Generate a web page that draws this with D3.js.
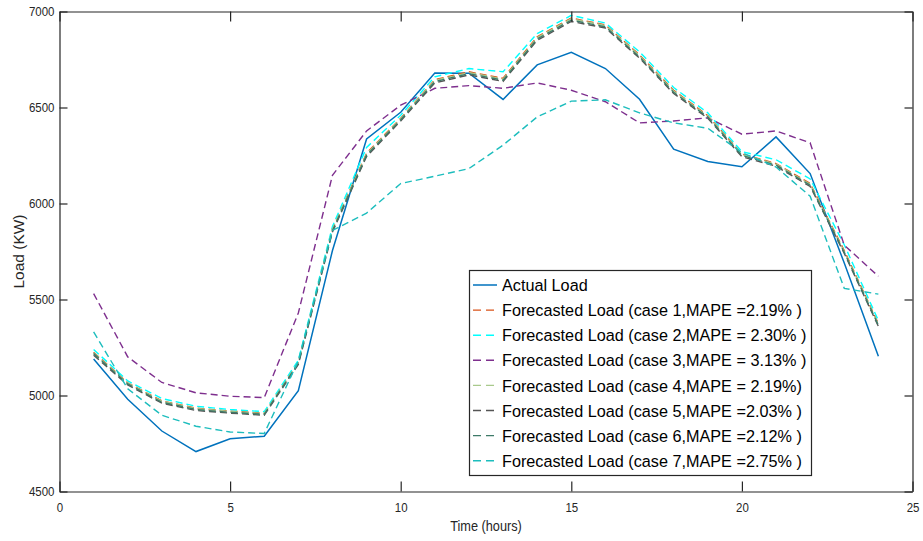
<!DOCTYPE html>
<html>
<head>
<meta charset="utf-8">
<script src="https://cdn.jsdelivr.net/npm/d3@7"></script>
<style>
  html, body { margin: 0; padding: 0; background: #fff; }
  svg { display: block; }
  text { font-family: "Liberation Sans", Arial, Helvetica, sans-serif; }
</style>
</head>
<body>
<svg id="chart" width="923" height="541"></svg>
<script>
// ---------------- data ----------------
const hours = [1,2,3,4,5,6,7,8,9,10,11,12,13,14,15,16,17,18,19,20,21,22,23,24];
const actualLoad = [5190,4980,4815,4708,4775,4788,5025,5755,6336,6475,6680,6679,6542,6722,6788,6703,6543,6283,6219,6191,6347,6156,5690,5204];
const case1 = [5225,5066,4972,4934,4919,4908,5174,5868,6262,6444,6645,6686,6652,6868,6966,6930,6774,6590,6458,6258,6208,6104,5755,5374];
const case2 = [5240,5076,4984,4944,4927,4916,5184,5880,6292,6460,6660,6703,6686,6885,6980,6940,6790,6604,6472,6270,6228,6128,5785,5390];
const case3 = [5531,5201,5068,5014,4996,4989,5430,6147,6378,6512,6600,6614,6600,6628,6590,6530,6420,6430,6446,6361,6378,6316,5783,5621];
const case4 = [5222,5064,4970,4932,4917,4906,5172,5866,6258,6441,6641,6682,6648,6864,6962,6927,6770,6586,6455,6255,6205,6100,5750,5370];
const case5 = [5210,5055,4960,4922,4908,4897,5162,5852,6245,6430,6628,6670,6636,6850,6948,6914,6757,6573,6444,6244,6194,6089,5740,5360];
const case6 = [5218,5060,4965,4927,4912,4902,5168,5858,6252,6436,6635,6676,6642,6857,6955,6920,6763,6579,6450,6250,6200,6095,5745,5366];
const case7 = [5331,5035,4897,4840,4810,4802,5180,5860,5950,6104,6142,6182,6304,6451,6533,6540,6472,6420,6392,6265,6190,6038,5558,5528];

const seriesNames = [
  "Actual Load",
  "Forecasted Load (case 1,MAPE =2.19% )",
  "Forecasted Load (case 2,MAPE = 2.30% )",
  "Forecasted Load (case 3,MAPE = 3.13% )",
  "Forecasted Load (case 4,MAPE = 2.19%)",
  "Forecasted Load (case 5,MAPE =2.03% )",
  "Forecasted Load (case 6,MAPE =2.12% )",
  "Forecasted Load (case 7,MAPE =2.75% )"
];
const seriesColors = ["#0072BD","#D95319","#00FFFF","#7E2F8E","#A9C98C","#555555","#3E7A68","#1DBDBD"];
const xTicks = [0,5,10,15,20,25];
const yTicks = [4500,5000,5500,6000,6500,7000];

const seriesValues = [actualLoad, case1, case2, case3, case4, case5, case6, case7];

// ---------------- layout ----------------
const svg = d3.select("#chart");
const L = 59.5, R = 912.5, T = 11.5, B = 491.5;
const axisColor = "#262626";
const sx = 0.85; // horizontal squeeze of glyphs as in reference

const x = d3.scaleLinear().domain([0,25]).range([L,R]);
const y = d3.scaleLinear().domain([4500,7000]).range([B,T]);

// ---------------- lines ----------------
const line = d3.line().x((d,i) => x(hours[i])).y(d => y(d));
const gLines = svg.append("g");
seriesValues.forEach((vals, k) => {
  gLines.append("path")
    .datum(vals)
    .attr("d", line)
    .attr("fill", "none")
    .attr("stroke", seriesColors[k])
    .attr("stroke-width", k === 0 ? 1.5 : 1.4)
    .attr("stroke-dasharray", k === 0 ? null : "7,4");
});

// ---------------- axes ----------------
function styleAxis(g) {
  g.select(".domain").attr("stroke", axisColor).attr("stroke-width", 1.2);
  g.selectAll(".tick line").attr("stroke", axisColor).attr("stroke-width", 1.2);
  g.selectAll(".tick text").attr("fill", axisColor).attr("font-size", 13.5)
    .attr("font-family", '"Liberation Sans", Arial, sans-serif');
}
const gB = svg.append("g").attr("transform", `translate(0,${B})`)
  .call(d3.axisBottom(x).tickValues(xTicks).tickFormat(d3.format("d")).tickSize(-10).tickSizeOuter(0).tickPadding(11));
styleAxis(gB);
const gT = svg.append("g").attr("transform", `translate(0,${T})`)
  .call(d3.axisTop(x).tickValues(xTicks).tickSize(-10).tickSizeOuter(0).tickFormat(""));
styleAxis(gT);
const gL = svg.append("g").attr("transform", `translate(${L},0)`)
  .call(d3.axisLeft(y).tickValues(yTicks).tickFormat(d3.format("d")).tickSize(-8).tickSizeOuter(0).tickPadding(5));
styleAxis(gL);
const gR = svg.append("g").attr("transform", `translate(${R},0)`)
  .call(d3.axisRight(y).tickValues(yTicks).tickSize(-8).tickSizeOuter(0).tickFormat(""));
styleAxis(gR);

// squeeze tick label glyphs horizontally
[gB, gL].forEach(g => {
  g.selectAll(".tick text").each(function() {
    const t = d3.select(this);
    const tx = +t.attr("x") || 0;
    t.attr("x", 0).attr("transform", `translate(${tx},0) scale(${sx},1)`);
  });
});

// axis titles
svg.append("text")
  .attr("transform", `translate(${(L+R)/2},${531}) scale(${sx},1)`)
  .attr("text-anchor", "middle")
  .attr("font-size", 15)
  .attr("fill", axisColor)
  .text("Time (hours)");
svg.append("text")
  .attr("transform", `translate(24,${(T+B)/2}) rotate(-90)`)
  .attr("text-anchor", "middle")
  .attr("font-size", 15.5)
  .attr("fill", axisColor)
  .text("Load (KW)");

// ---------------- legend ----------------
const lg = svg.append("g");
lg.append("rect")
  .attr("x", 469.5).attr("y", 270.5).attr("width", 342).attr("height", 205)
  .attr("fill", "#fff").attr("stroke", axisColor).attr("stroke-width", 1.2);
seriesNames.forEach((name, k) => {
  const cy = 285 + k * 25.1;
  lg.append("line")
    .attr("x1", 473).attr("x2", 497).attr("y1", cy).attr("y2", cy)
    .attr("stroke", seriesColors[k])
    .attr("stroke-width", k === 0 ? 1.5 : 1.4)
    .attr("stroke-dasharray", k === 0 ? null : "8,5");
  lg.append("text")
    .attr("transform", `translate(502,${cy}) scale(0.955,1)`)
    .attr("dy", "0.36em")
    .attr("font-size", 17)
    .attr("fill", "#000")
    .text(name);
});
</script>
</body>
</html>
